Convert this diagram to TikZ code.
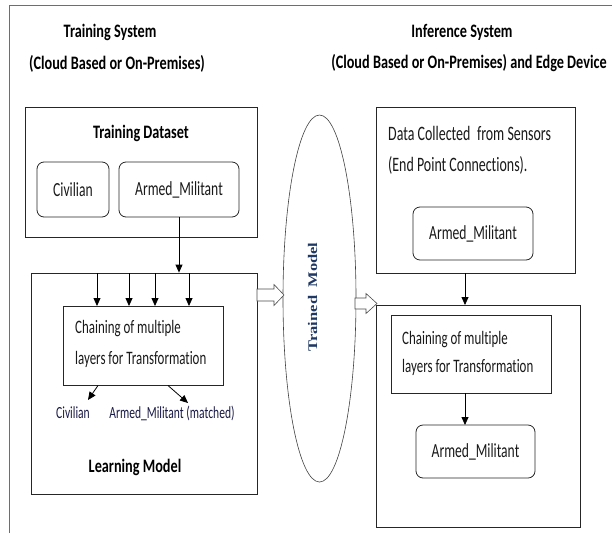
\documentclass[tikz,border=0pt]{standalone}
\usepackage{fontspec}
\setmainfont[FakeStretch=0.68,Ligatures=NoCommon]{Carlito}
\newfontfamily\hdfont[FakeStretch=0.75,Ligatures=NoCommon]{Carlito}
\newfontfamily\serifb{Liberation Serif}
\usetikzlibrary{shapes.geometric,arrows.meta,positioning}
\definecolor{framegray}{RGB}{110,110,110}
\definecolor{txtnavy}{RGB}{25,25,70}
\definecolor{tmblue}{RGB}{31,56,100}
\tikzset{
  x=1pt,y=-1pt,
  box/.style={draw=black!85,line width=0.8pt},
  rbox/.style={draw=black!85,line width=0.8pt,rounded corners=7pt},
  ttl/.style={font=\hdfont\fontsize{19}{22}\selectfont\bfseries,inner sep=0pt},
  lbl/.style={font=\fontsize{19}{22}\selectfont,inner sep=0pt,text=black!90},
  small/.style={font=\fontsize{17}{20}\selectfont,inner sep=0pt,text=txtnavy},
  arr/.style={-{Triangle[length=8pt,width=7pt]},line width=0.8pt},
  harr/.style={draw=black!70,fill=white,line width=0.6pt},
}
\begin{document}
\begin{tikzpicture}
\useasboundingbox (0,0) rectangle (612,533);
% outer frame
\draw[framegray,line width=1pt] (9,533) -- (9,5) -- (612,5);
% headings
\node[ttl] (ts) at (110,32) {Training System};
\node[ttl] (tsc) at (117,64) {(Cloud Based or On-Premises)};
\node[ttl] (is) at (462,32) {Inference System};
\node[ttl] (isc) at (469,63) {(Cloud Based or On-Premises) and Edge Device};
% training dataset
\node[box,minimum width=232pt,minimum height=130pt,inner sep=0pt] (td) at (141,172) {};
\node[ttl] (tdl) at (141,133) {Training Dataset};
\node[rbox,minimum width=72pt,minimum height=55pt,inner sep=0pt] (civ) at (73,189.5) {};
\node[lbl,font=\fontsize{20}{22}\selectfont] at (civ) {Civilian};
\node[rbox,minimum width=120pt,minimum height=55pt,inner sep=0pt] (am) at (179,189.5) {};
\node[lbl,font=\fontsize{20}{22}\selectfont] at (am) {Armed\_Militant};
% learning model
\node[box,minimum width=226pt,minimum height=221pt,inner sep=0pt] (lm) at (144,383.5) {};
\node[box,minimum width=160pt,minimum height=79pt,inner sep=0pt] (ch) at (143,345.5) {};
\node[lbl,anchor=west] (ch1) at (75,329) {Chaining of multiple};
\node[lbl,anchor=west] (ch2) at (75,359) {layers for Transformation};
\node[small] (oc) at (73,413) {Civilian};
\node[small] (oa) at (172,413) {Armed\_Militant (matched)};
\node[ttl] (lml) at (135,467) {Learning Model};
\draw[arr] (am.south) -- (am.south |- lm.north);
\foreach \xx in {97,129,155,189}{
  \draw[arr] (\xx,273) -- (\xx,306);
}
\draw[arr] (98,385.5) -- (88,400);
\draw[arr] (168,385.5) -- (188,403);
% trained model ellipse
\node[ellipse,draw=black!75,line width=0.6pt,minimum width=73pt,minimum height=367pt,inner sep=0pt] (el) at (319.5,298.5) {};
\node[rotate=90,inner sep=0pt,text=tmblue] (tm) at (312.5,297) {\scalebox{1}[0.8]{\serifb\bfseries\fontsize{16.5}{18}\selectfont Trained\ \ Model}};
% hollow arrows
\draw[harr] (257,289) -- (274,289) -- (274,284.5) -- (284,295) -- (274,305.5) -- (274,301) -- (257,301) -- cycle;
\draw[harr] (355,298) -- (366,298) -- (366,293.5) -- (377,303.5) -- (366,313.5) -- (366,309) -- (355,309) -- cycle;
% inference top box
\node[box,minimum width=199pt,minimum height=166pt,inner sep=0pt] (dc) at (475.5,190) {};
\node[lbl,anchor=west,font=\fontsize{20.5}{22}\selectfont] (dc1) at (388,133) {Data Collected\, from Sensors};
\node[lbl,anchor=west,font=\fontsize{20.5}{22}\selectfont] (dc2) at (388,165) {(End Point Connections).};
\node[rbox,minimum width=120pt,minimum height=53pt,inner sep=0pt] (am2) at (473,233.5) {};
\node[lbl,font=\fontsize{20}{22}\selectfont] at (am2) {Armed\_Militant};
% inference bottom box
\node[box,minimum width=204pt,minimum height=222pt,inner sep=0pt] (ib) at (478,416) {};
\node[box,minimum width=160pt,minimum height=78pt,inner sep=0pt] (ch3) at (471,354) {};
\node[lbl,anchor=west] (ch31) at (402,340) {Chaining of multiple};
\node[lbl,anchor=west] (ch32) at (402,367) {layers for Transformation};
\node[rbox,minimum width=119pt,minimum height=53pt,inner sep=0pt] (am3) at (475.5,451.5) {};
\node[lbl,font=\fontsize{20}{22}\selectfont] at (am3) {Armed\_Militant};
\draw[arr] (465,273) -- (465,305);
\draw[arr] (465,393) -- (465,425);
\end{tikzpicture}
\end{document}
